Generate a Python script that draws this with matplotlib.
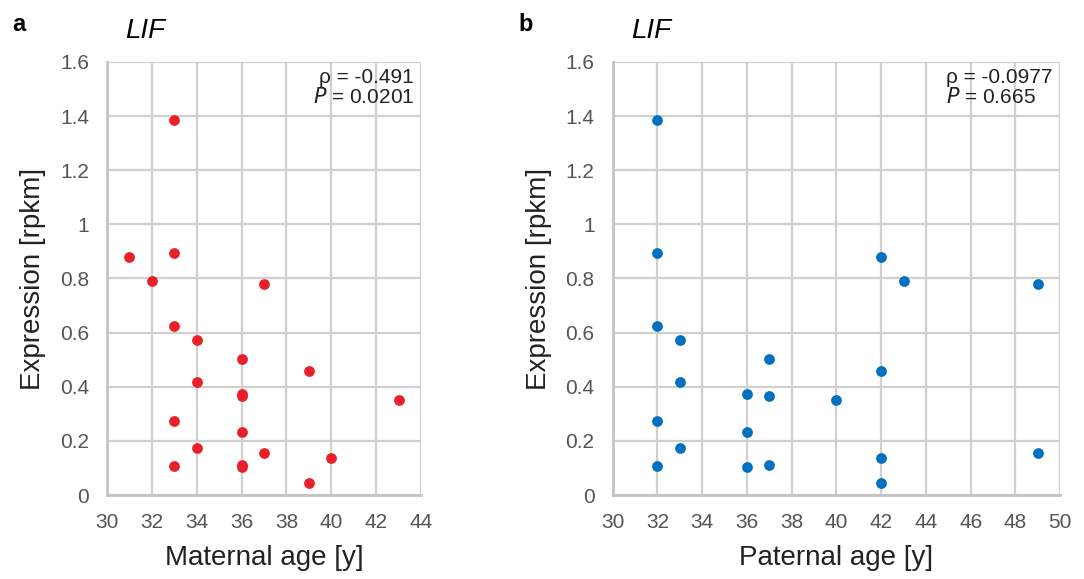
import matplotlib.pyplot as plt
from matplotlib.ticker import FormatStrFormatter

plt.rcParams['font.family'] = ['Liberation Sans', 'DejaVu Sans']

# expression values (rpkm) per sample, with maternal / paternal age
expression = [1.385, 0.893, 0.880, 0.789, 0.780, 0.624, 0.571, 0.502, 0.459, 0.416, 0.372,
              0.367, 0.351, 0.272, 0.234, 0.172, 0.155, 0.138, 0.108, 0.112, 0.103, 0.043]
maternal_age = [33, 33, 31, 32, 37, 33, 34, 36, 39, 34, 36,
                36, 43, 33, 36, 34, 37, 40, 33, 36, 36, 39]
paternal_age = [32, 32, 42, 43, 49, 32, 33, 37, 42, 33, 36,
                37, 40, 32, 36, 33, 49, 42, 32, 37, 36, 42]

fig = plt.figure(figsize=(10.84, 5.79), dpi=100)

paneles = [
    dict(pos=[0.0987, 0.145, 0.2897, 0.748], x=maternal_age, color='#e8202a',
         xlim=(30, 44), xlabel='Maternal age [y]', letter='a',
         stats=('ρ = -0.491', '$P$ = 0.0201'), ha='right', tx=0.977),
    dict(pos=[0.5652, 0.145, 0.4128, 0.748], x=paternal_age, color='#0070c0',
         xlim=(30, 50), xlabel='Paternal age [y]', letter='b',
         stats=('ρ = -0.0977', '$P$ = 0.665'), ha='left', tx=0.745),
]

for p in paneles:
    ax = fig.add_axes(p['pos'])
    ax.scatter(p['x'], expression, s=60, color=p['color'], zorder=3, linewidths=0, clip_on=False)
    ax.set_xlim(*p['xlim'])
    ax.set_ylim(0, 1.6)
    ax.set_xticks(range(p['xlim'][0], p['xlim'][1] + 1, 2))
    ax.set_yticks([0, 0.2, 0.4, 0.6, 0.8, 1.0, 1.2, 1.4, 1.6])
    ax.yaxis.set_major_formatter(FormatStrFormatter('%g'))
    ax.grid(True, color='#d0d0d0', linewidth=1.6, zorder=0)
    ax.set_axisbelow(True)
    for s in ['top', 'right']:
        ax.spines[s].set_visible(False)
    for s in ['left', 'bottom']:
        ax.spines[s].set_color('#c4c4c4')
        ax.spines[s].set_linewidth(2)
    ax.tick_params(length=0, labelsize=15, labelcolor='#555555', pad=13)
    ax.set_xlabel(p['xlabel'], fontsize=20, color='#222222', labelpad=9)
    ax.set_ylabel('Expression [rpkm]', fontsize=20, color='#222222', labelpad=10)
    ax.text(p['tx'], 0.985, p['stats'][0] + '\n' + p['stats'][1], transform=ax.transAxes,
            ha=p['ha'], va='top', fontsize=15, color='#222222', linespacing=1.0,
            multialignment=p['ha'])
    x0 = p['pos'][0]
    fig.text(x0 - 0.087, 0.957, p['letter'], fontsize=17, fontweight='bold', va='center')
    fig.text(x0 + 0.017, 0.947, 'LIF', fontsize=20, fontstyle='italic', va='center')

plt.savefig('out.png', dpi=100)
